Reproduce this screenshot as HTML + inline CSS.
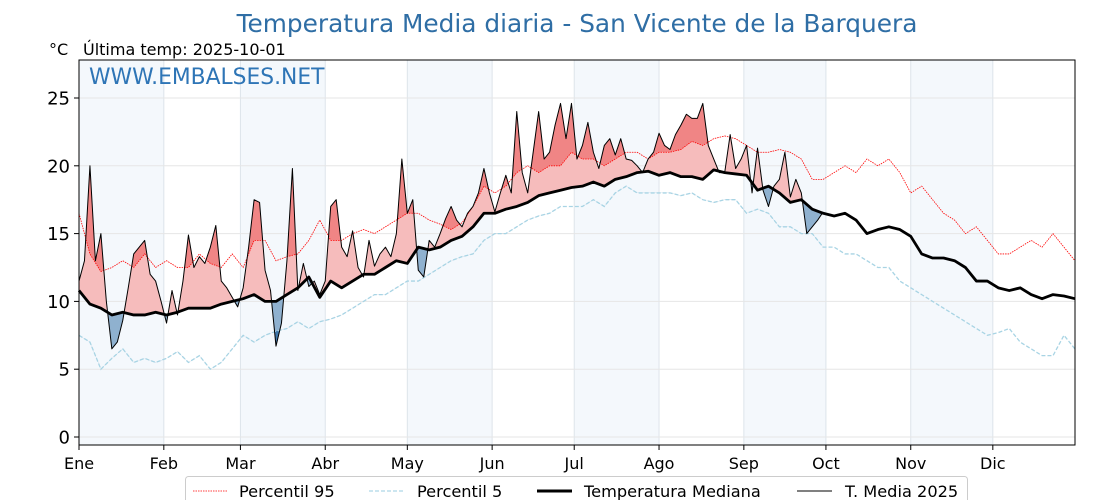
<!DOCTYPE html>
<html><head><meta charset="utf-8"><style>
body{margin:0;background:#fff;width:1120px;height:500px;overflow:hidden;font-family:"DejaVu Sans","Liberation Sans",sans-serif}
svg{display:block}
</style></head><body>
<svg id="chart" width="1120" height="500" xmlns="http://www.w3.org/2000/svg">
<text x="577" y="32" text-anchor="middle" font-size="24.8" fill="#2f6ea5">Temperatura Media diaria - San Vicente de la Barquera</text>
<text x="49" y="55" font-size="16" fill="#000">°C</text>
<text x="83" y="55" font-size="16" fill="#000">Última temp: 2025-10-01</text>
<g id="bands"></g><g id="grid"></g><g id="fills"></g><g id="lines"></g>
<rect x="79" y="60" width="996" height="385" fill="none" stroke="#000" stroke-width="1"/>
<text x="89" y="84" font-size="21.8" fill="#2e75b6">WWW.EMBALSES.NET</text>
<g id="axes"></g>
<g>
<rect x="185.5" y="476.5" width="782" height="30" rx="3" fill="#fff" stroke="#ccc"/>
<g><line x1="193" y1="491" x2="227" y2="491" stroke="red" stroke-width="0.8" stroke-dasharray="1.5,1"/><text x="239" y="497" font-size="16.2">Percentil 95</text></g>
<g><line x1="369" y1="491" x2="405" y2="491" stroke="#add8e6" stroke-width="1.2" stroke-dasharray="4,2"/><text x="417" y="497" font-size="16.2">Percentil 5</text></g>
<g><line x1="537" y1="491" x2="572" y2="491" stroke="#000" stroke-width="3"/><text x="584" y="497" font-size="16.2">Temperatura Mediana</text></g>
<g><line x1="797" y1="491" x2="832" y2="491" stroke="#000" stroke-width="1"/><text x="845" y="497" font-size="16.2">T. Media 2025</text></g>
</g>
</svg>
<script>
const monthLabels=["Ene","Feb","Mar","Abr","May","Jun","Jul","Ago","Sep","Oct","Nov","Dic"];
const monthStarts=[0,31,59,90,120,151,181,212,243,273,304,334];
const yTicks=[0,5,10,15,20,25];
const t2025=[11.5,13,20,13,15,10,6.5,7,8.6,11,13.5,14,14.5,12,11.5,10,8.4,10.8,9,11.5,14.9,12.5,13.3,12.8,14,15.6,11.5,11,10.3,9.6,11,14,17.5,17.3,12.3,10.8,6.7,8.4,13,19.8,10.8,12.8,11.1,11.5,10.5,11.5,17,17.5,14,13.3,15.2,12.5,11.8,14.5,12.6,13.5,14,13.3,15,20.5,16.5,17.5,12.3,11.8,14.5,14,15,16.1,17,16,15.5,16.5,17,18,19.8,18,16.6,18,19.3,18,24,19.5,18,21,24,20.5,21,23,24.6,22,24.6,20.5,21.5,23.2,21,19.8,21.5,22,20.8,22,20.5,20.4,20,19.5,20.5,21,22.4,21.5,21.2,22.3,23,23.8,23.5,23.5,24.6,21.5,20.5,19.5,19.5,22.3,19.8,20.5,21.5,18,21.3,18.2,17,18.5,19,21,17.7,19,18,15,15.5,16,16.6];
const median=[10.8,9.8,9.5,9,9.2,9,9,9.2,9,9.2,9.5,9.5,9.5,9.8,10,10.2,10.5,10,10,10.5,11,11.8,10.3,11.5,11,11.5,12,12,12.5,13,12.8,14,13.8,14,14.5,14.8,15.5,16.5,16.5,16.8,17,17.3,17.8,18,18.2,18.4,18.5,18.8,18.5,19,19.2,19.5,19.6,19.3,19.5,19.2,19.2,19,19.7,19.5,19.4,19.3,18.2,18.5,18,17.3,17.5,16.8,16.5,16.3,16.5,16,15,15.3,15.5,15.3,14.8,13.5,13.2,13.2,13,12.5,11.5,11.5,11,10.8,11,10.5,10.2,10.5,10.4,10.2];
const p95=[16.5,13.5,12.2,12.5,13,12.5,13.5,12.5,13,12.5,12.5,13.5,12.8,12.5,13.5,12.5,14.5,14.5,13,13.3,13.5,14.5,16,14.5,14.5,15,15.3,15,15.5,16,16.5,16.5,16,15.7,15.3,15.8,17,18.5,18,18.5,19.5,20,19.5,20,20,21,20.5,20.5,20,20.5,21,21,20.5,21,21,21.2,21.8,21.5,22,22.2,22,21.5,21,21,21.2,21,20.5,19,19,19.5,20,19.5,20.5,20,20.5,19.5,18,18.5,17.5,16.5,16,15,15.5,14.5,13.5,13.5,14,14.5,14,15,14,13];
const p5=[7.5,7,5,5.8,6.5,5.5,5.8,5.5,5.8,6.3,5.5,6,5,5.5,6.5,7.5,7,7.5,7.8,8,8.5,8,8.5,8.7,9,9.5,10,10.5,10.5,11,11.5,11.5,12,12.5,13,13.3,13.5,14.5,15,15,15.5,16,16.3,16.5,17,17,17,17.5,17,18,18.5,18,18,18,18,17.8,18,17.5,17.3,17.5,17.5,16.5,16.8,16.5,15.5,15.5,15,15,14,14,13.5,13.5,13,12.5,12.5,11.5,11,10.5,10,9.5,9,8.5,8,7.5,7.7,8,7,6.5,6,6,7.5,6.5];
const T_STEP=2, S_STEP=4;

const NS="http://www.w3.org/2000/svg";
const X0=79,XS=2.736,Y0=437,YS=13.56,TOP=60,BOT=445,RIGHT=1075;
const xs=d=>X0+d*XS, ys=v=>Y0-v*YS;
function at(arr,step,d){const i=d/step;const a=Math.floor(i);if(a>=arr.length-1)return arr[arr.length-1];const f=i-a;return arr[a]*(1-f)+arr[a+1]*f;}
function mk(tag,attrs,parent){const e=document.createElementNS(NS,tag);for(const k in attrs)e.setAttribute(k,attrs[k]);parent.appendChild(e);return e;}
const svg=document.getElementById('chart');
const bands=document.getElementById('bands'),grid=document.getElementById('grid'),fills=document.getElementById('fills'),lines=document.getElementById('lines'),axes=document.getElementById('axes');
monthStarts.forEach((m,i)=>{const end=i<11?monthStarts[i+1]:365;
 if(i%2===0){const r=mk('rect',{x:xs(m),y:TOP,width:Math.min(xs(end),RIGHT)-xs(m),height:BOT-TOP,fill:'#f4f8fc'},bands);
 
 }
 const gl=mk('line',{x1:xs(m),x2:xs(m),y1:TOP,y2:BOT,stroke:'#dde4ea','stroke-width':1},grid);
 
 
 const tk=mk('line',{x1:xs(m),x2:xs(m),y1:BOT,y2:BOT+5,stroke:'#000'},axes);
 
 
 const tl=mk('text',{x:xs(m),y:BOT+24,'text-anchor':'middle','font-size':16},axes);
 tl.textContent=monthLabels[i];
 
 
});
yTicks.forEach(v=>{
 const gl=mk('line',{x1:X0,x2:RIGHT,y1:ys(v),y2:ys(v),stroke:'#e6e6e6'},grid);
 
 
 const tk=mk('line',{x1:X0-5,x2:X0,y1:ys(v),y2:ys(v),stroke:'#000'},axes);
 
 
 const tl=mk('text',{x:X0-9,y:ys(v)+6.5,'text-anchor':'end','font-size':18},axes);
 tl.textContent=v;
 
 
});
const tEnd=(t2025.length-1)*T_STEP;
const days=[];for(let d=0;d<=tEnd;d++)days.push(d);
const tv=d=>at(t2025,T_STEP,d),mv=d=>at(median,S_STEP,d),p95v=d=>at(p95,S_STEP,d),p5v=d=>at(p5,S_STEP,d);
const defs=mk('defs',{},svg);
function clip(id,fn,above){const c=mk('clipPath',{id:id},defs);
 let pts=days.map(d=>xs(d)+','+ys(fn(d)));
 pts.push(xs(tEnd)+','+(above?0:500));pts.push(xs(0)+','+(above?0:500));
 mk('polygon',{points:pts.join(' ')},c);}
clip('aboveMed',mv,true);clip('belowMed',mv,false);clip('aboveP95',p95v,true);clip('belowP5',p5v,false);
function band(fA,fB){const a=days.map(d=>xs(d)+','+ys(fA(d)));const b=days.slice().reverse().map(d=>xs(d)+','+ys(fB(d)));return a.concat(b).join(' ');}
const f1=mk('polygon',{points:band(tv,mv),fill:'#f6bcbc','clip-path':'url(#aboveMed)'},fills);


const f2=mk('polygon',{points:band(tv,mv),fill:'#8fb1cf','clip-path':'url(#belowMed)'},fills);


const f3=mk('polygon',{points:band(tv,p95v),fill:'#f08585','clip-path':'url(#aboveP95)'},fills);


const f4=mk('polygon',{points:band(tv,p5v),fill:'#3f75a8','clip-path':'url(#belowP5)'},fills);


function line(arr,step,attrs){const pts=arr.map((v,i)=>xs(i*step)+','+ys(v)).join(' ');
 return mk('polyline',Object.assign({points:pts,fill:'none'},attrs),lines);}
const l1=line(p95,S_STEP,{stroke:'red','stroke-width':0.8,'stroke-dasharray':'1.5,1'});


const l2=line(p5,S_STEP,{stroke:'#a8d4e4','stroke-width':1.3,'stroke-dasharray':'4,2'});


const l3=line(median,S_STEP,{stroke:'#000','stroke-width':2.8,'stroke-linejoin':'round'});


const l4=line(t2025,T_STEP,{stroke:'#000','stroke-width':1,'stroke-linejoin':'round'});


</script>
</body></html>
